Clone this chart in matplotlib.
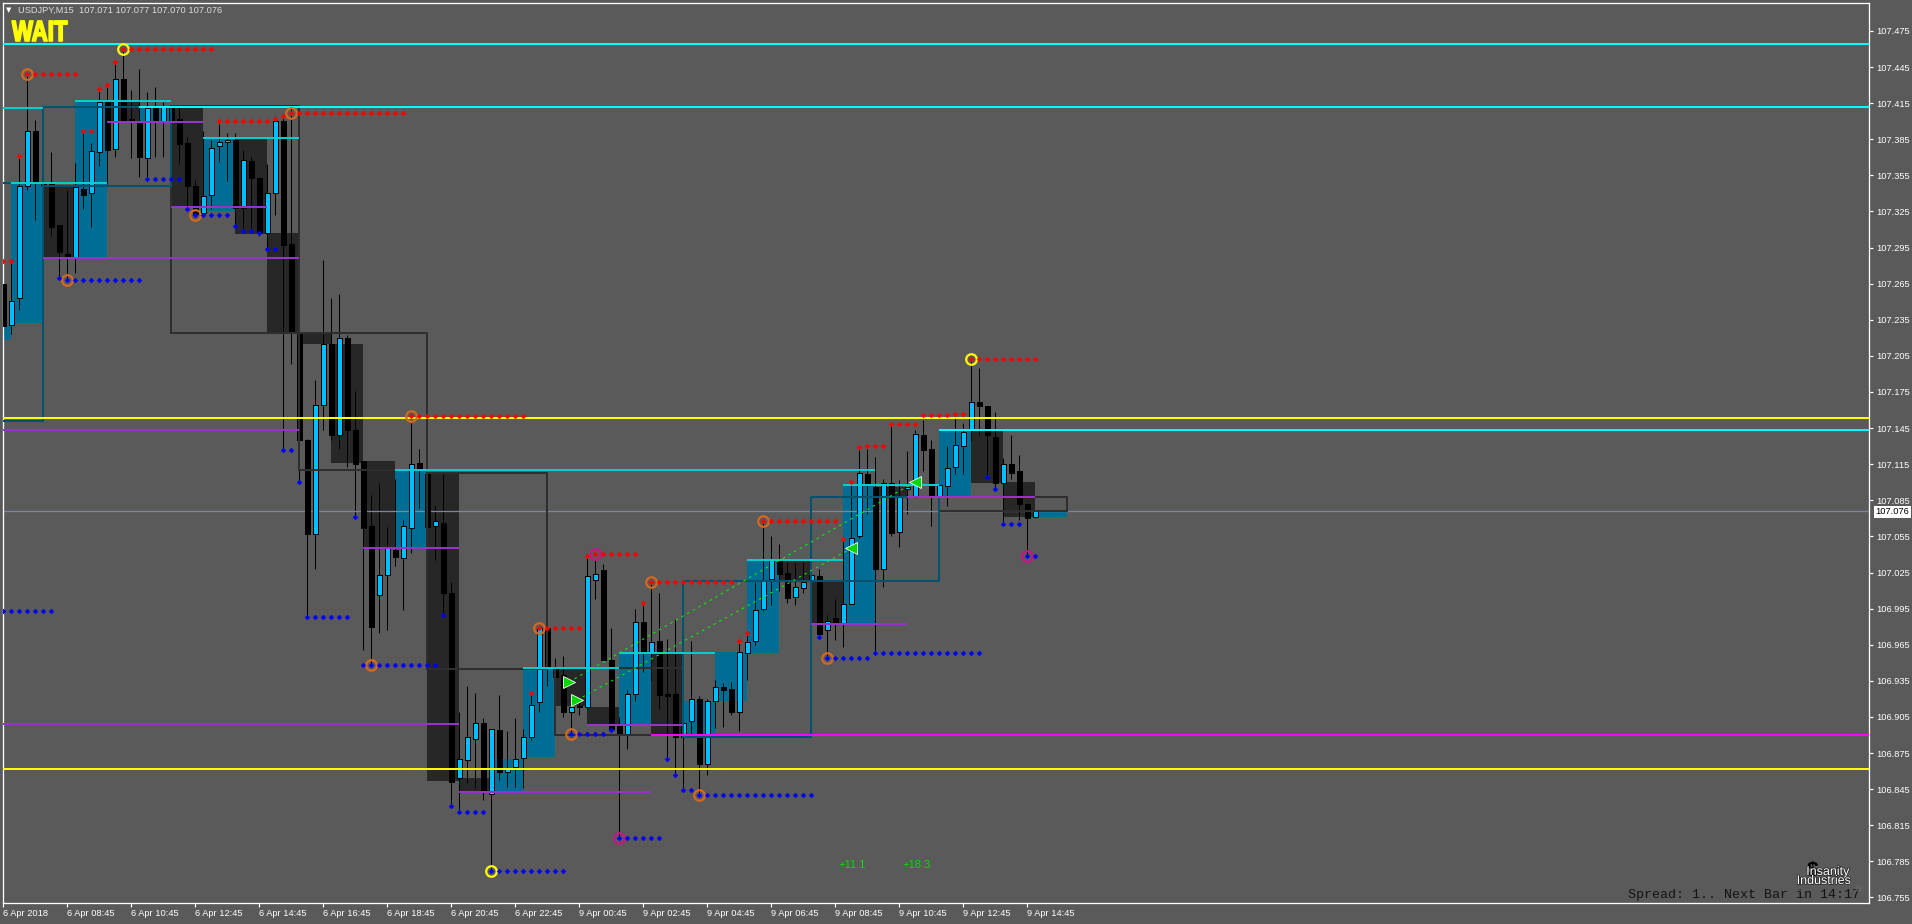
import matplotlib
matplotlib.use("Agg")
import matplotlib.pyplot as plt
import matplotlib.patheffects as pe
from matplotlib.patches import Rectangle
from matplotlib.transforms import Affine2D

# USDJPY M15 candles
opens = [107.265, 107.231, 107.253, 107.346, 107.392, 107.349, 107.348, 107.314, 107.290, 107.286,
         107.344, 107.340, 107.374, 107.418, 107.377, 107.435, 107.402, 107.399, 107.369, 107.411,
         107.400, 107.413, 107.402, 107.382, 107.346, 107.324, 107.339, 107.379, 107.383, 107.384,
         107.328, 107.367, 107.353, 107.307, 107.340, 107.400, 107.298, 107.223, 107.135, 107.057,
         107.164, 107.215, 107.139, 107.220, 107.143, 107.118, 107.064, 107.006, 107.023, 107.044,
         107.037, 107.062, 107.116, 107.107, 107.064, 107.066, 107.008, 106.854, 106.869, 106.887,
         106.900, 106.841, 106.894, 106.859, 106.863, 106.871, 106.888, 106.917, 106.979, 106.945,
         106.940, 106.909, 106.914, 106.913, 107.019, 107.027, 106.952, 106.898, 106.891, 106.924,
         106.984, 106.958, 106.968, 106.924, 106.924, 106.888, 106.902, 106.920, 106.866, 106.918,
         106.930, 106.928, 106.909, 106.958, 106.968, 106.995, 107.020, 107.035, 107.025, 107.005,
         107.012, 107.018, 107.022, 106.977, 106.987, 106.982, 106.999, 107.055, 107.107, 107.096,
         107.028, 107.099, 107.059, 107.094, 107.088, 107.139, 107.128, 107.088, 107.097, 107.113,
         107.130, 107.143, 107.167, 107.163, 107.138, 107.099, 107.115, 107.109, 107.082, 107.071]
highs = [107.275, 107.282, 107.370, 107.438, 107.401, 107.351, 107.374, 107.314, 107.343, 107.365,
         107.392, 107.382, 107.427, 107.430, 107.449, 107.459, 107.426, 107.443, 107.424, 107.428,
         107.416, 107.413, 107.412, 107.387, 107.351, 107.392, 107.384, 107.398, 107.390, 107.390,
         107.376, 107.370, 107.354, 107.364, 107.404, 107.405, 107.411, 107.224, 107.136, 107.185,
         107.285, 107.253, 107.256, 107.222, 107.176, 107.118, 107.089, 107.099, 107.063, 107.103,
         107.069, 107.149, 107.128, 107.107, 107.080, 107.107, 107.017, 106.909, 106.931, 106.925,
         106.904, 106.895, 106.923, 106.893, 106.904, 106.895, 106.925, 106.979, 106.979, 106.954,
         106.956, 106.919, 106.919, 107.038, 107.035, 107.032, 106.979, 106.905, 106.927, 106.995,
         107.001, 107.017, 107.008, 106.970, 106.986, 106.900, 106.968, 106.922, 106.920, 106.936,
         106.933, 106.934, 106.968, 106.973, 107.017, 107.067, 107.055, 107.049, 107.034, 107.033,
         107.034, 107.023, 107.028, 106.990, 107.003, 107.053, 107.099, 107.127, 107.128, 107.121,
         107.103, 107.148, 107.102, 107.126, 107.143, 107.152, 107.135, 107.098, 107.130, 107.154,
         107.149, 107.202, 107.195, 107.163, 107.158, 107.120, 107.139, 107.123, 107.083, 107.077]
lows = [107.213, 107.223, 107.243, 107.343, 107.318, 107.346, 107.305, 107.271, 107.268, 107.274,
        107.327, 107.312, 107.363, 107.348, 107.370, 107.400, 107.369, 107.354, 107.354, 107.370,
        107.370, 107.400, 107.364, 107.329, 107.321, 107.322, 107.327, 107.366, 107.350, 107.312,
        107.311, 107.311, 107.305, 107.294, 107.322, 107.127, 107.198, 107.100, 106.988, 107.028,
        107.143, 107.135, 107.128, 107.113, 107.071, 106.961, 106.948, 106.975, 106.977, 107.030,
        106.994, 107.041, 107.079, 107.062, 107.035, 106.991, 106.831, 106.826, 106.850, 106.846,
        106.836, 106.778, 106.853, 106.847, 106.847, 106.846, 106.886, 106.909, 106.931, 106.937,
        106.905, 106.890, 106.907, 106.912, 107.003, 106.952, 106.894, 106.804, 106.878, 106.918,
        106.942, 106.935, 106.912, 106.870, 106.857, 106.844, 106.891, 106.839, 106.857, 106.896,
        106.897, 106.907, 106.893, 106.936, 106.965, 106.993, 106.998, 107.010, 107.000, 106.998,
        107.008, 107.017, 106.972, 106.955, 106.969, 106.963, 106.999, 107.054, 107.074, 106.958,
        107.013, 107.055, 107.046, 107.074, 107.087, 107.109, 107.064, 107.087, 107.080, 107.107,
        107.107, 107.134, 107.139, 107.104, 107.094, 107.065, 107.103, 107.069, 107.039, 107.070]
closes = [107.230, 107.251, 107.346, 107.392, 107.349, 107.347, 107.312, 107.291, 107.286, 107.345,
          107.339, 107.375, 107.416, 107.376, 107.435, 107.401, 107.399, 107.370, 107.411, 107.400,
          107.412, 107.401, 107.381, 107.346, 107.323, 107.338, 107.378, 107.383, 107.384, 107.328,
          107.368, 107.353, 107.307, 107.340, 107.400, 107.297, 107.225, 107.135, 107.057, 107.164,
          107.215, 107.139, 107.220, 107.143, 107.115, 107.062, 106.980, 107.023, 107.045, 107.038,
          107.064, 107.115, 107.110, 107.063, 107.068, 107.008, 106.851, 106.870, 106.888, 106.900,
          106.843, 106.895, 106.859, 106.862, 106.870, 106.888, 106.915, 106.979, 106.947, 106.938,
          106.909, 106.913, 106.913, 107.022, 107.024, 106.952, 106.895, 106.891, 106.924, 106.984,
          106.959, 106.967, 106.923, 106.922, 106.888, 106.900, 106.920, 106.866, 106.918, 106.930,
          106.927, 106.909, 106.959, 106.967, 106.994, 107.019, 107.036, 107.024, 107.004, 107.013,
          107.017, 107.023, 106.974, 106.985, 106.982, 106.999, 107.054, 107.108, 107.099, 107.028,
          107.099, 107.058, 107.088, 107.096, 107.140, 107.127, 107.088, 107.098, 107.112, 107.131,
          107.142, 107.167, 107.163, 107.139, 107.099, 107.115, 107.108, 107.082, 107.070, 107.076]

# (first bar, last bar, price) runs of the resistance / support dots
red_runs = [(0, 1, 107.284), (2, 2, 107.371), (3, 9, 107.439), (10, 11, 107.392), (12, 12, 107.427),
            (13, 13, 107.430), (14, 14, 107.449), (15, 26, 107.460), (27, 33, 107.400), (34, 34, 107.402),
            (35, 35, 107.404), (36, 50, 107.407), (51, 65, 107.155), (66, 66, 106.925), (67, 72, 106.979),
            (73, 73, 107.039), (74, 79, 107.040), (80, 80, 107.000), (81, 91, 107.017), (92, 92, 106.968),
            (93, 93, 106.975), (95, 104, 107.068), (105, 105, 107.053), (106, 106, 107.100), (107, 107, 107.129),
            (108, 110, 107.130), (111, 114, 107.148), (115, 118, 107.156), (119, 120, 107.157), (121, 129, 107.202)]
blue_runs = [(0, 6, 106.993), (7, 7, 107.270), (8, 17, 107.268), (18, 22, 107.352), (23, 23, 107.327),
             (24, 28, 107.322), (29, 29, 107.313), (30, 31, 107.309), (32, 32, 107.307), (33, 34, 107.294),
             (35, 36, 107.127), (37, 37, 107.100), (38, 43, 106.988), (44, 44, 107.071), (45, 54, 106.948),
             (55, 55, 106.990), (56, 56, 106.831), (57, 60, 106.826), (61, 70, 106.777), (71, 75, 106.891),
             (76, 76, 106.894), (77, 82, 106.804), (83, 83, 106.870), (84, 84, 106.857), (85, 86, 106.844),
             (87, 101, 106.840), (102, 102, 106.971), (103, 108, 106.954), (109, 122, 106.958),
             (123, 123, 107.104), (124, 124, 107.094), (125, 127, 107.065), (128, 129, 107.039)]

yellow_rings = [(15, 107.460), (61, 106.777), (121, 107.202)]
orange_rings = [(3, 107.439), (8, 107.268), (24, 107.322), (36, 107.407), (46, 106.948), (51, 107.155),
                (67, 106.979), (71, 106.891), (81, 107.017), (87, 106.840), (95, 107.068), (103, 106.954)]
magenta_rings = [(74, 107.040), (77, 106.804), (128, 107.039)]

# H1 blocks (first bar, last bar, top, bottom)
blue_blocks = [(-1, 1, 107.230, 107.218), (1, 5, 107.348, 107.232), (9, 13, 107.416, 107.286),
               (17, 21, 107.412, 107.400), (25, 29, 107.385, 107.325), (49, 53, 107.110, 107.045),
               (61, 65, 106.870, 106.843), (65, 69, 106.945, 106.872), (77, 81, 106.958, 106.898),
               (85, 89, 106.918, 106.890), (89, 93, 106.959, 106.918), (93, 97, 107.035, 106.958),
               (105, 109, 107.098, 106.982), (117, 121, 107.143, 107.088), (129, 133, 107.075, 107.071)]
dark_blocks = [(5, 9, 107.347, 107.286), (13, 17, 107.416, 107.399), (21, 25, 107.413, 107.329),
               (29, 33, 107.385, 107.306), (33, 37, 107.307, 107.224), (37, 41, 107.224, 107.215),
               (41, 45, 107.215, 107.116), (45, 49, 107.118, 107.045), (53, 57, 107.107, 106.852),
               (57, 61, 106.854, 106.843), (69, 73, 106.946, 106.914), (73, 77, 106.913, 106.898),
               (81, 85, 106.958, 106.890), (97, 101, 107.035, 107.018), (101, 105, 107.017, 106.982),
               (109, 113, 107.096, 107.088), (121, 125, 107.143, 107.099), (125, 129, 107.100, 107.071)]

# H4 outlines
dark_boxes = [(21, 37, 107.413, 107.224), (37, 53, 107.224, 107.110), (53, 68, 107.108, 106.945),
              (69, 85, 106.946, 106.890), (117, 133, 107.088, 107.076)]
blue_boxes = [(-3, 5, 107.349, 107.151), (5, 21, 107.412, 107.346), (85, 101, 107.018, 106.888),
              (101, 117, 107.088, 107.018)]

# levels (first bar, last bar, price)
teal_segs = [(0, 5, 107.411), (1, 13, 107.349), (9, 21, 107.417), (25, 37, 107.386), (49, 109, 107.110),
             (65, 77, 106.946), (77, 89, 106.958), (93, 105, 107.035), (105, 117, 107.098)]
purple_segs = [(0, 37, 107.143), (0, 57, 106.899), (5, 37, 107.286), (13, 25, 107.399), (21, 33, 107.329),
               (45, 57, 107.045), (57, 81, 106.843), (73, 85, 106.898), (101, 113, 106.982), (113, 129, 107.088)]
cyan_levels = [(0, 107.464), (17, 107.412), (117, 107.143)]
yellow_levels = [107.153, 106.862]
magenta_level = (81, 106.890)
last_price = 107.076

# trades: (entry bar, entry price, exit bar, exit price)
trades = [(70.7, 106.934, 113.9, 107.100), (71.7, 106.919, 106.0, 107.045)]

price_ticks = [106.755, 106.785, 106.815, 106.845, 106.875, 106.905, 106.935, 106.965, 106.995, 107.025,
               107.055, 107.085, 107.115, 107.145, 107.175, 107.205, 107.235, 107.265, 107.295, 107.325,
               107.355, 107.385, 107.415, 107.445, 107.475]
time_labels = ["6 Apr 2018", "6 Apr 08:45", "6 Apr 10:45", "6 Apr 12:45", "6 Apr 14:45", "6 Apr 16:45",
               "6 Apr 18:45", "6 Apr 20:45", "6 Apr 22:45", "9 Apr 00:45", "9 Apr 02:45", "9 Apr 04:45",
               "9 Apr 06:45", "9 Apr 08:45", "9 Apr 10:45", "9 Apr 12:45", "9 Apr 14:45"]

BG = "#5a5a5a"
W, H = 1912, 924
PX = 72 / 100  # one pixel in points
FONT = "Liberation Sans"


class Squeeze(pe.AbstractPathEffect):
    # no narrow bold font here, so squeeze the glyphs sideways
    def __init__(self, sx):
        super().__init__()
        self.sx = sx

    def draw_path(self, renderer, gc, tpath, affine, rgbFace=None):
        gc.set_linewidth(1.2)
        gc.set_foreground(rgbFace)
        renderer.draw_path(gc, tpath, Affine2D().scale(self.sx, 1) + affine, rgbFace)


fig = plt.figure(figsize=(W / 100, H / 100), dpi=100, facecolor=BG)
ax = fig.add_axes([2.5 / W, 1 - 903 / H, (1869 - 2.5) / W, (903 - 2.5) / H], facecolor=BG)
ax.set_xlim(-0.1, 233.2)
ax.set_ylim(106.7504, 107.4986)


def block(x0, x1, top, bottom, color):
    ax.add_patch(Rectangle((x0, bottom), x1 - x0, top - bottom, facecolor=color, edgecolor="none",
                           antialiased=False, zorder=1))


def box(x0, x1, top, bottom, color):
    ax.add_patch(Rectangle((x0, bottom), x1 - x0, top - bottom, facecolor="none", edgecolor=color,
                           linewidth=2 * PX, zorder=4, joinstyle="miter"))


for b in blue_blocks:
    block(*b, "#006d94")
for b in dark_blocks:
    block(*b, "#272727")
for b in dark_boxes:
    box(*b, "#2e2e2e")
for b in blue_boxes:
    box(*b, "#00536e")

# candles
bars = range(len(opens))
ax.vlines(bars, lows, highs, color="black", linewidth=PX, zorder=2)
for i in bars:
    up = closes[i] >= opens[i]
    ax.bar(i, abs(closes[i] - opens[i]), 0.55, bottom=min(opens[i], closes[i]),
           color="#00bfff" if up else "black", edgecolor="black", linewidth=PX, zorder=3)

xmax = ax.get_xlim()[1]
for x0, x1, p in teal_segs:
    ax.hlines(p, x0, x1, color="#00ced1", linewidth=2 * PX, zorder=5)
for x0, x1, p in purple_segs:
    ax.hlines(p, x0, x1, color="#9932cc", linewidth=2 * PX, zorder=5)
for x0, p in cyan_levels:
    ax.hlines(p, x0, xmax, color="#00ffff", linewidth=2 * PX, zorder=5)
for p in yellow_levels:
    ax.hlines(p, 0, xmax, color="#ffff00", linewidth=2 * PX, zorder=5)
ax.hlines(magenta_level[1], magenta_level[0], xmax, color="#ff00ff", linewidth=2 * PX, zorder=5)
ax.hlines(last_price, 0, xmax, color="#778899", linewidth=1.3 * PX, zorder=2.5)

# trade lines and arrows
for x0, p0, x1, p1 in trades:
    ax.plot([x0, x1], [p0, p1], color="#00ff00", linewidth=1 * PX, linestyle=(0, (2.5, 4)), zorder=6)
    ax.plot(x0, p0, marker=">", color="#00d800", markeredgecolor="white", markersize=8,
            markeredgewidth=0.6, zorder=7)
    ax.plot(x1, p1, marker="<", color="#00d800", markeredgecolor="white", markersize=8,
            markeredgewidth=0.6, zorder=7)

# rings below the dots
for rings, color in [(yellow_rings, "#ffff00"), (orange_rings, "#d2691e"), (magenta_rings, "#c71585")]:
    ax.plot([r[0] for r in rings], [r[1] for r in rings], linestyle="none", marker="o", markersize=7.6,
            markerfacecolor="none", markeredgecolor=color, markeredgewidth=1.6, zorder=8)

for first, last, p in red_runs:
    xs = list(range(first, last + 1))
    ax.plot(xs, [p] * len(xs), linestyle="none", marker="D", markersize=2.8, color="#ff0000",
            markeredgewidth=0, zorder=9)
for first, last, p in blue_runs:
    xs = list(range(first, last + 1))
    ax.plot(xs, [p] * len(xs), linestyle="none", marker="D", markersize=2.8, color="#0000ff",
            markeredgewidth=0, zorder=9)

# axes
for name in ["left", "right", "top", "bottom"]:
    ax.spines[name].set_color("white")
    ax.spines[name].set_linewidth(1.3 * PX)
ax.yaxis.tick_right()
ax.set_yticks(price_ticks)
ax.set_yticklabels(["%.3f" % t for t in price_ticks], fontfamily=FONT, fontsize=6.7, color="white")
ax.tick_params(axis="y", length=3, width=1.2 * PX, color="white", pad=2.5)
ax.set_xticks(list(range(0, 8 * len(time_labels), 8)))
ax.set_xticklabels(time_labels, fontfamily=FONT, fontsize=6.7, color="white", ha="left")
ax.tick_params(axis="x", length=3, width=1.2 * PX, color="white", pad=1.2)


def px(x, y):
    return x / W, 1 - y / H


fig.text(*px(1875.5, 512), "%.3f" % last_price, fontfamily=FONT, fontsize=6.7, color="black", va="center",
         bbox=dict(facecolor="white", edgecolor="none", pad=1.2), zorder=10)

# header
fig.text(*px(6, 10.5), "\u25bc", fontfamily="DejaVu Sans", fontsize=5, color="white", va="center")
fig.text(*px(18, 10.5), "USDJPY,M15  107.071 107.077 107.070 107.076", fontfamily=FONT, fontsize=6.7,
         color="#dcdcdc", va="center")
fig.text(*px(12, 41), "WAIT", fontfamily=FONT, fontweight="bold", fontsize=21, color="#ffff00",
         va="baseline", path_effects=[Squeeze(0.76)])

# profit labels
ax.text(104.4, 106.782, "+11.1", fontfamily=FONT, fontsize=8, color="#00e000", va="center", zorder=10)
ax.text(112.4, 106.782, "+18.3", fontfamily=FONT, fontsize=8, color="#00e000", va="center", zorder=10)

# footer
fig.text(*px(1628, 895), "Spread: 1.. Next Bar in 14:17", fontfamily="Liberation Mono", fontsize=9.6,
         color="#141414", va="center")
fig.text(*px(1813, 871), "$", fontfamily=FONT, fontsize=15, color="black", ha="center", va="center",
         fontweight="bold")
fig.text(*px(1828, 872), "Insanity", fontfamily=FONT, fontsize=9, color="white", ha="center", va="center",
         path_effects=[pe.withStroke(linewidth=1, foreground="#202020")])
fig.text(*px(1824, 881), "Industries", fontfamily=FONT, fontsize=9, color="white", ha="center", va="center",
         path_effects=[pe.withStroke(linewidth=1, foreground="#202020")])
fig.text(*px(1858, 889), "\u2620", fontfamily="DejaVu Sans", fontsize=7, color="#6e6e6e", ha="center",
         va="center")

fig.savefig("out.png", dpi=100, facecolor=BG)
